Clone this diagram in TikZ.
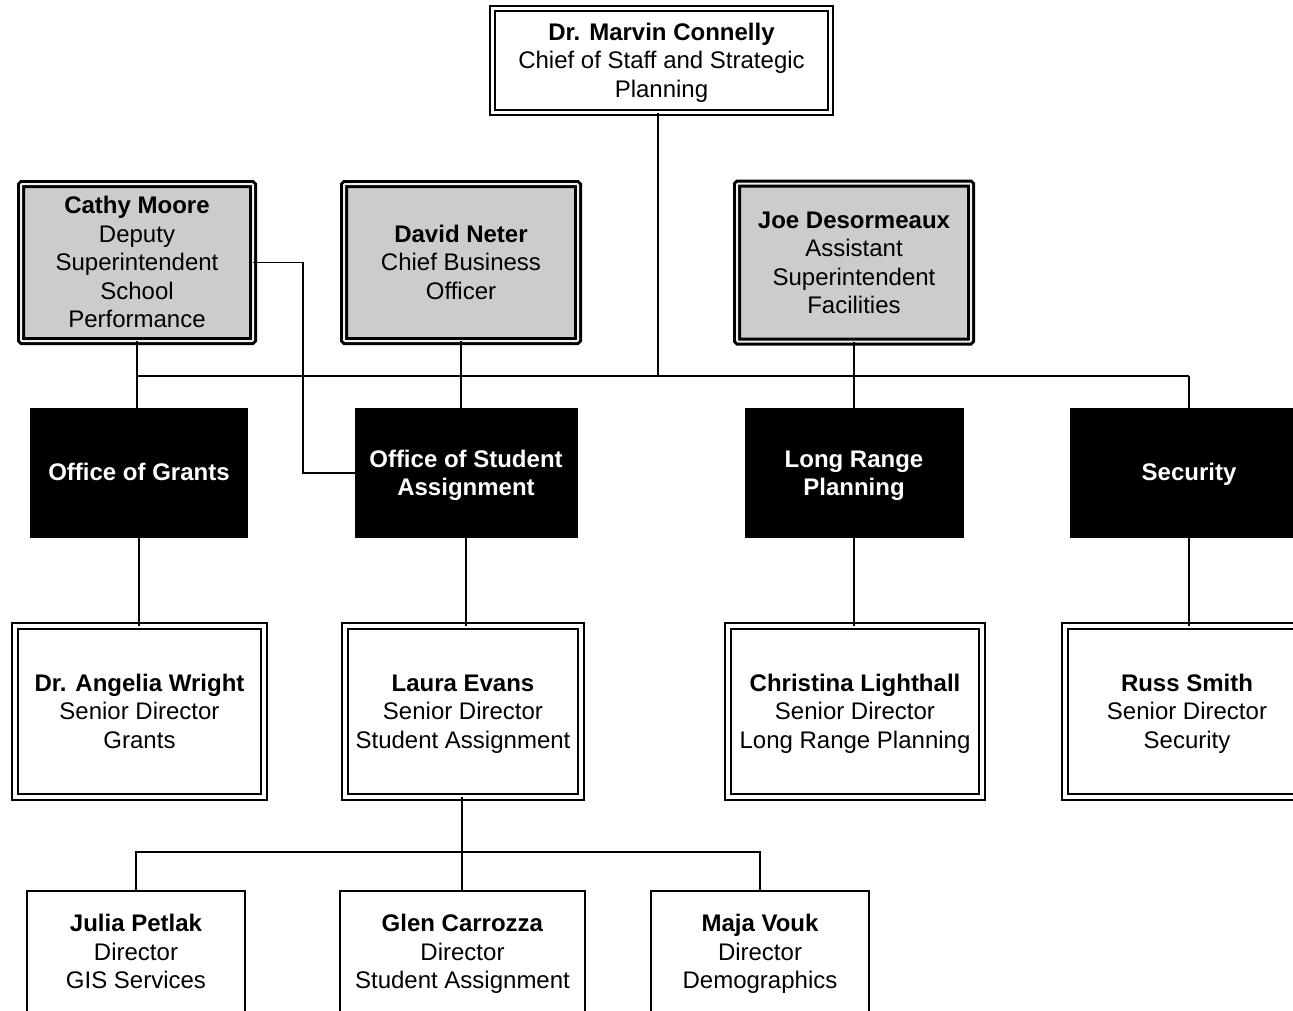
\documentclass[tikz,border=0pt]{standalone}
\usepackage{fontspec}
\setmainfont{Liberation Sans}
% fixed height of the first line and depth of the last one, so every
% box centres its lines the same way whatever letters they hold
\newcommand\linetop{\rule{0pt}{24.5pt}}
\newcommand\linetopsingle{\rule{0pt}{23pt}}
\newcommand\linebottom{\rule[-7.8pt]{0pt}{7.8pt}}
\begin{document}
\begin{tikzpicture}[x=1pt,y=-1pt,
  every node/.style={inner sep=0pt, outer sep=0pt, align=center,
    font=\fontsize{24}{28.5}\selectfont},
  labelled/.style={execute at end node=\linebottom},
  topbox/.style={labelled, draw, fill=white, line width=2pt, double=white, double distance=3pt},
  execbox/.style={labelled, draw, fill=gray!40, line width=3pt, double=gray!12, double distance=2pt, rounded corners=1pt},
  deptbox/.style={labelled, draw=black, fill=black, text=white, line width=1pt},
  headbox/.style={labelled, draw, fill=white, line width=2pt, double=white, double distance=3.5pt},
  staffbox/.style={labelled, draw, fill=white, line width=2pt},
  link/.style={line width=1.8pt}
]
\useasboundingbox (0,0) rectangle (1293,1010);
\clip (0,0) rectangle (1293,1010);

% chief of staff
\node[topbox, minimum width=338pt, minimum height=104.6pt] (top) at (661.5,60.6)
  {\linetop\textbf{Dr. Marvin Connelly}\\Chief of Staff and Strategic\\Planning};

% executives
\node[execbox, minimum width=232pt, minimum height=157pt] (cathy) at (137,262.5)
  {\linetop\textbf{Cathy Moore}\\Deputy\\Superintendent\\School\\Performance};
\node[execbox, minimum width=234pt, minimum height=157pt] (david) at (461,262.5)
  {\linetop\textbf{David Neter}\\Chief Business\\Officer};
\node[execbox, minimum width=234pt, minimum height=158pt] (joe) at (854,262.5)
  {\linetop\textbf{Joe Desormeaux}\\Assistant\\Superintendent\\Facilities};

% departments
\node[deptbox, minimum width=217pt, minimum height=129pt] (grants) at (139,473)
  {\linetopsingle\textbf{Office of Grants}};
\node[deptbox, minimum width=222pt, minimum height=129pt] (osa) at (466,473)
  {\linetop\textbf{Office of Student}\\\textbf{Assignment}};
\node[deptbox, minimum width=218pt, minimum height=129pt] (lrp) at (854,473)
  {\linetop\textbf{Long Range}\\\textbf{Planning}};
\node[deptbox, minimum width=238pt, minimum height=129pt] (sec) at (1189,473)
  {\linetopsingle\textbf{Security}};

% senior directors
\node[headbox, minimum width=249pt, minimum height=171pt] (wright) at (139.5,711.5)
  {\linetop\textbf{Dr. Angelia Wright}\\Senior Director\\Grants};
\node[headbox, minimum width=236pt, minimum height=171pt] (evans) at (463,711.5)
  {\linetop\textbf{Laura Evans}\\Senior Director\\Student Assignment};
\node[headbox, minimum width=254pt, minimum height=171pt] (lighthall) at (855,711.5)
  {\linetop\textbf{Christina Lighthall}\\Senior Director\\Long Range Planning};
\node[headbox, minimum width=244pt, minimum height=171pt] (smith) at (1187,711.5)
  {\linetop\textbf{Russ Smith}\\Senior Director\\Security};

% directors
\node[staffbox, minimum width=218pt, minimum height=122pt] (petlak) at (136,952)
  {\linetop\textbf{Julia Petlak}\\Director\\GIS Services};
\node[staffbox, minimum width=245pt, minimum height=122pt] (carrozza) at (462.5,952)
  {\linetop\textbf{Glen Carrozza}\\Director\\Student Assignment};
\node[staffbox, minimum width=218pt, minimum height=122pt] (vouk) at (760,952)
  {\linetop\textbf{Maja Vouk}\\Director\\Demographics};

% junction points
\coordinate (bus) at (658,376);
\coordinate (elbow) at (303,400);
\coordinate (lowbus) at (462,852);

% connectors
\draw[link] (top.south -| bus) -- (bus);
\draw[link] (cathy.south |- bus) -- (sec.north |- bus);
\draw[link] (cathy.south) -- (cathy.south |- grants.north);
\draw[link] (david.south) -- (david.south |- osa.north);
\draw[link] (joe.south) -- (joe.south |- lrp.north);
\draw[link] (sec.north |- bus) -- (sec.north);
\draw[link] (cathy.east) -| (elbow) |- (osa.west);

\draw[link] (grants.south) -- (grants.south |- wright.north);
\draw[link] (osa.south) -- (osa.south |- evans.north);
\draw[link] (lrp.south) -- (lrp.south |- lighthall.north);
\draw[link] (sec.south) -- (sec.south |- smith.north);

\draw[link] (evans.south -| lowbus) -- (carrozza.north -| lowbus);
\draw[link] (petlak.north) -- (petlak.north |- lowbus) -- (vouk.north |- lowbus) -- (vouk.north);
\end{tikzpicture}
\end{document}
